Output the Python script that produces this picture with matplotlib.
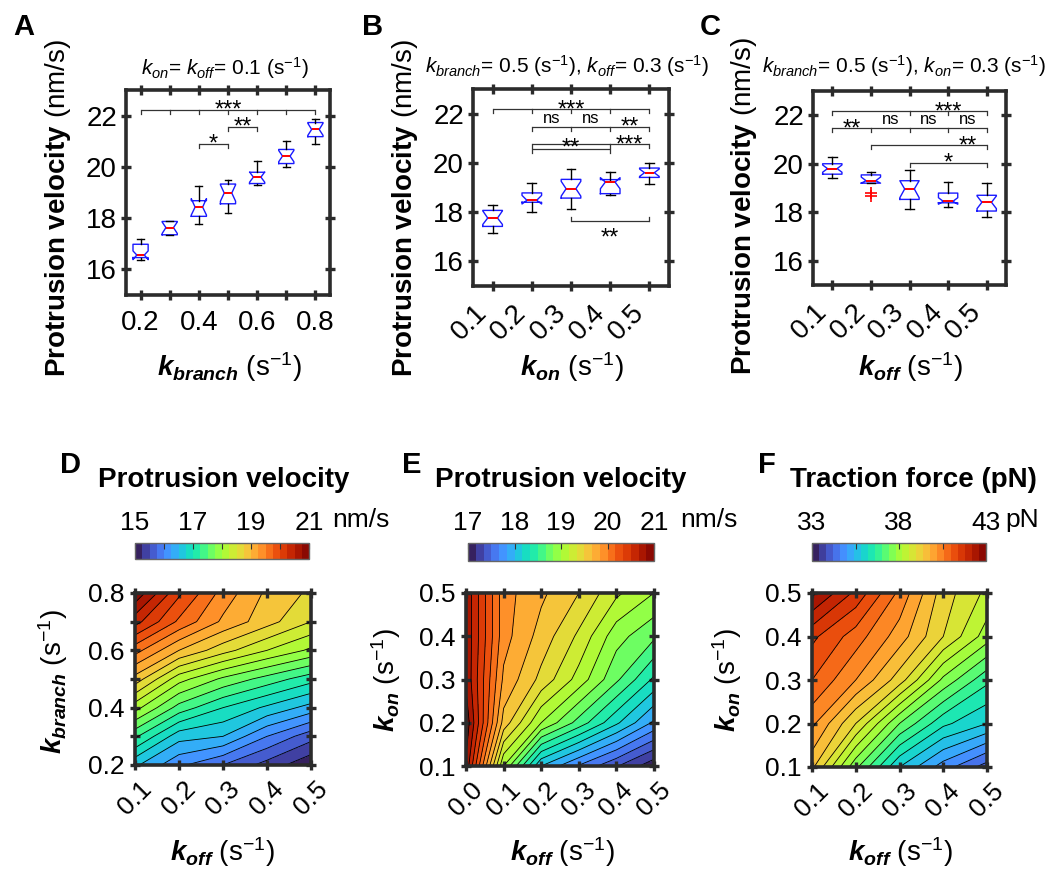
import numpy as np
import matplotlib
matplotlib.use("Agg")
import matplotlib.pyplot as plt

plt.rcParams['font.family'] = ['Liberation Sans', 'DejaVu Sans']
plt.rcParams['mathtext.fontset'] = 'custom'
plt.rcParams['mathtext.rm'] = 'Liberation Sans'
plt.rcParams['mathtext.it'] = 'Liberation Sans:italic'
plt.rcParams['mathtext.bf'] = 'Liberation Sans:bold'
plt.rcParams['mathtext.bfit'] = 'Liberation Sans:bold:italic'
plt.rcParams['mathtext.sf'] = 'Liberation Sans'
plt.rcParams['axes.unicode_minus'] = False

# ---------------- data: panel A (k_branch sweep) ----------------
kbranch_A = [0.2, 0.3, 0.4, 0.5, 0.6, 0.7, 0.8]
A_med = [16.56, 17.63, 18.43, 18.98, 19.60, 20.42, 21.46]
A_q1 = [16.46, 17.35, 18.07, 18.56, 19.35, 20.13, 21.18]
A_q3 = [16.98, 17.87, 18.68, 19.33, 19.79, 20.68, 21.73]
A_lo = [16.37, 17.35, 17.78, 18.20, 19.29, 19.99, 20.88]
A_hi = [17.18, 17.87, 19.24, 19.50, 20.22, 21.00, 21.88]
A_cilo = [16.38, 17.40, 18.12, 18.66, 19.40, 20.20, 21.23]
A_cihi = [16.72, 17.85, 18.76, 19.30, 19.80, 20.64, 21.70]
A_fliers = [[], [], [], [], [], [], []]

# ---------------- data: panel B (k_on sweep) ----------------
kon_B = [0.1, 0.2, 0.3, 0.4, 0.5]
B_med = [17.76, 18.48, 18.95, 19.22, 19.60]
B_q1 = [17.42, 18.40, 18.57, 18.75, 19.41]
B_q3 = [18.07, 18.78, 19.33, 19.32, 19.79]
B_lo = [17.17, 18.00, 18.14, 18.71, 19.13]
B_hi = [18.28, 19.20, 19.74, 19.62, 20.01]
B_cilo = [17.50, 18.33, 18.65, 18.95, 19.45]
B_cihi = [18.05, 18.68, 19.25, 19.40, 19.75]
B_fliers = [[], [], [], [], []]

# ---------------- data: panel C (k_off sweep) ----------------
koff_C = [0.1, 0.2, 0.3, 0.4, 0.5]
C_med = [19.80, 19.30, 18.96, 18.45, 18.41]
C_q1 = [19.57, 19.20, 18.53, 18.39, 18.05]
C_q3 = [20.00, 19.54, 19.30, 18.79, 18.70]
C_lo = [19.41, 19.20, 18.12, 18.20, 17.82]
C_hi = [20.29, 19.68, 19.73, 19.23, 19.19]
C_cilo = [19.65, 19.20, 18.60, 18.33, 18.15]
C_cihi = [19.95, 19.45, 19.30, 18.60, 18.67]
C_fliers = [[], [18.66, 18.78], [], [], []]

# significance brackets: (x_start, x_end, y_bar, tick x positions, tick direction)
A_brackets = [(0.2, 0.8, 22.22, [0.2, 0.3, 0.4, 0.5, 0.6, 0.7, 0.8], -1),
              (0.5, 0.6, 21.57, [0.5, 0.6], -1),
              (0.4, 0.5, 20.90, [0.4, 0.5], -1)]
A_sig = [("***", 0.5, 22.22, 1), ("**", 0.55, 21.57, 1), ("*", 0.45, 20.90, 1)]

B_brackets = [(0.1, 0.5, 22.17, [0.1, 0.2, 0.3, 0.4, 0.5], -1),
              (0.2, 0.5, 21.46, [0.2, 0.3, 0.4, 0.5], -1),
              (0.2, 0.5, 20.75, [0.2, 0.4, 0.5], -1),
              (0.2, 0.4, 20.58, [0.2, 0.4], -1),
              (0.3, 0.5, 17.63, [0.3, 0.5], 1)]
B_sig = [("***", 0.30, 22.17, 1), ("ns", 0.25, 21.46, 1), ("ns", 0.35, 21.46, 1),
         ("**", 0.45, 21.46, 1), ("***", 0.45, 20.75, 1), ("**", 0.30, 20.62, 1),
         ("**", 0.40, 17.63, -1)]

C_brackets = [(0.1, 0.5, 22.16, [0.1, 0.3, 0.4, 0.5], -1),
              (0.1, 0.5, 21.46, [0.1, 0.2, 0.3, 0.4, 0.5], -1),
              (0.2, 0.5, 20.76, [0.2, 0.5], -1),
              (0.3, 0.5, 20.04, [0.3, 0.5], -1)]
C_sig = [("***", 0.40, 22.16, 1), ("**", 0.15, 21.46, 1), ("ns", 0.25, 21.46, 1),
         ("ns", 0.35, 21.46, 1), ("ns", 0.45, 21.46, 1), ("**", 0.45, 20.76, 1),
         ("*", 0.40, 20.04, 1)]

# ---------------- data: contour maps ----------------
koff_D = [0.1, 0.2, 0.3, 0.4, 0.5]
kbranch_D = [0.2, 0.3, 0.4, 0.5, 0.6, 0.7, 0.8]
vel_D = [[16.55, 16.05, 15.75, 15.40, 15.05],
         [17.30, 16.60, 16.50, 16.00, 15.60],
         [18.10, 17.40, 17.00, 16.70, 16.40],
         [18.90, 18.10, 17.70, 17.40, 17.10],
         [19.60, 19.00, 18.60, 18.25, 17.95],
         [20.35, 19.70, 19.20, 18.85, 18.50],
         [20.95, 20.05, 19.40, 18.95, 18.70]]

koff_E = [0.0, 0.1, 0.2, 0.3, 0.4, 0.5]
kon_E = [0.1, 0.2, 0.3, 0.4, 0.5]
vel_E = [[20.80, 19.00, 18.00, 17.65, 17.35, 17.05],
         [20.95, 19.60, 19.00, 18.60, 18.20, 17.80],
         [20.80, 19.80, 19.45, 19.10, 18.70, 18.30],
         [20.80, 19.90, 19.60, 19.30, 18.90, 18.70],
         [20.80, 19.90, 19.70, 19.50, 19.20, 19.00]]

koff_F = [0.1, 0.2, 0.3, 0.4, 0.5]
kon_F = [0.1, 0.2, 0.3, 0.4, 0.5]
force_F = [[39.5, 37.5, 35.8, 34.8, 34.0],
           [40.3, 39.0, 37.4, 36.3, 35.8],
           [41.0, 40.2, 39.2, 37.7, 36.7],
           [41.5, 40.8, 40.0, 39.0, 38.0],
           [42.7, 41.7, 40.5, 39.2, 38.5]]

# ---------------- layout helpers ----------------
W, H = 1048, 869
fig = plt.figure(figsize=(W / 100, H / 100), dpi=100)
SPINE = '#2b2b2b'


def rect(x0, y0, x1, y1):
    return [x0 / W, 1 - y1 / H, (x1 - x0) / W, (y1 - y0) / H]


def ftext(x, y, s, **kw):
    fig.text(x / W, 1 - y / H, s, **kw)


def style(ax, labelsize):
    for s in ax.spines.values():
        s.set_linewidth(2.6)
        s.set_color(SPINE)
    ax.tick_params(direction='inout', length=7, width=2.4, color=SPINE,
                   top=True, right=True, labelsize=labelsize)


def draw_boxes(ax, pos, med, q1, q3, lo, hi, cilo, cihi, fliers, width):
    stats = [dict(med=med[i], q1=q1[i], q3=q3[i], whislo=lo[i], whishi=hi[i],
                  cilo=cilo[i], cihi=cihi[i], fliers=fliers[i]) for i in range(len(pos))]
    ax.bxp(stats, positions=pos, widths=width, shownotches=True, showfliers=True,
           manage_ticks=False, capwidths=width * 0.45,
           boxprops=dict(color='#1a1aff', lw=1.0),
           medianprops=dict(color='#ff0000', lw=1.4),
           whiskerprops=dict(color='black', lw=1.0),
           capprops=dict(color='black', lw=1.0),
           flierprops=dict(marker='+', markeredgecolor='red', markersize=8,
                           markeredgewidth=1.2, linestyle='none'))


def draw_sig(ax, brackets, sigs, tick_len):
    for (x1, x2, y, txs, d) in brackets:
        ax.plot([x1, x2], [y, y], color='#333333', lw=0.9, solid_capstyle='butt')
        for tx in txs:
            ax.plot([tx, tx], [y, y + d * tick_len], color='#333333', lw=0.9)
    for (s, x, y, d) in sigs:
        star = '*' in s
        if d > 0:
            dy = -5.0 if star else 3.0
        else:
            dy = -17.0
        ax.annotate(s, xy=(x, y), xytext=(0, dy), textcoords='offset points',
                    ha='center', va='baseline', fontsize=17 if star else 12,
                    color='black')


def top_panel(rc, pos, data, xlim, xticks, xticklabels, rot, brackets, sigs, width):
    ax = fig.add_axes(rect(*rc))
    draw_boxes(ax, pos, *data, width)
    draw_sig(ax, brackets, sigs, 0.16)
    ax.set_xlim(*xlim)
    ax.set_ylim(15, 23)
    ax.set_yticks([16, 18, 20, 22])
    style(ax, 20)
    ax.tick_params(axis='y', pad=3)
    ax.set_xticks(xticks)
    if rot:
        ax.set_xticklabels(xticklabels, rotation=45, ha='right', va='top')
        ax.tick_params(axis='x', pad=6)
    else:
        ax.set_xticklabels(xticklabels)
        ax.tick_params(axis='x', pad=7)
    return ax


# ---------------- top row ----------------
axA = top_panel((126, 90, 330, 295), kbranch_A,
                (A_med, A_q1, A_q3, A_lo, A_hi, A_cilo, A_cihi, A_fliers),
                (0.15, 0.85), kbranch_A, ['0.2', '', '0.4', '', '0.6', '', '0.8'],
                False, A_brackets, A_sig, 0.052)
axB = top_panel((473, 89, 669, 286), kon_B,
                (B_med, B_q1, B_q3, B_lo, B_hi, B_cilo, B_cihi, B_fliers),
                (0.05, 0.55), kon_B, [f'{v:.1f}' for v in kon_B],
                True, B_brackets, B_sig, 0.05)
axC = top_panel((813, 91, 1006, 285), koff_C,
                (C_med, C_q1, C_q3, C_lo, C_hi, C_cilo, C_cihi, C_fliers),
                (0.05, 0.55), koff_C, [f'{v:.1f}' for v in koff_C],
                True, C_brackets, C_sig, 0.05)

ylab = r'$\mathbf{Protrusion\ velocity}$ (nm/s)'
ftext(58, 208, ylab, rotation=90, ha='center', va='center', fontsize=20)
ftext(405, 208, ylab, rotation=90, ha='center', va='center', fontsize=20)
ftext(744, 206, ylab, rotation=90, ha='center', va='center', fontsize=20)

ftext(229, 367, r'$\mathbfit{k}_{\mathbfit{branch}}$ (s$^{-1}$)', ha='center', va='center', fontsize=20)
ftext(572, 367, r'$\mathbfit{k}_{\mathbfit{on}}$ (s$^{-1}$)', ha='center', va='center', fontsize=20)
ftext(910, 367, r'$\mathbfit{k}_{\mathbfit{off}}$ (s$^{-1}$)', ha='center', va='center', fontsize=20)

ftext(225, 68, r'$k_{on}$= $k_{off}$= 0.1 (s$^{-1}$)', ha='center', va='center', fontsize=15)
ftext(567, 66, r'$k_{branch}$= 0.5 (s$^{-1}$), $k_{off}$= 0.3 (s$^{-1}$)', ha='center', va='center', fontsize=15)
ftext(904, 66, r'$k_{branch}$= 0.5 (s$^{-1}$), $k_{on}$= 0.3 (s$^{-1}$)', ha='center', va='center', fontsize=15)

for (x, y, s) in [(24, 27, 'A'), (373, 27, 'B'), (710, 27, 'C'),
                  (71, 465, 'D'), (412, 465, 'E'), (767, 465, 'F')]:
    ftext(x, y, s, ha='center', va='center', fontsize=21, fontweight='bold')


# ---------------- bottom row ----------------
def contour_panel(rc, cbrc, x, y, z, levels, cticks, clabels, xlim, ylim, yticks, yticklabels, unit, unit_x):
    ax = fig.add_axes(rect(*rc))
    X, Y = np.meshgrid(x, y)
    Z = np.array(z)
    cf = ax.contourf(X, Y, Z, levels=levels, cmap='turbo')
    ax.contour(X, Y, Z, levels=levels, colors='black', linewidths=0.6)
    ax.set_xlim(*xlim)
    ax.set_ylim(*ylim)
    ax.set_xticks(x)
    ax.set_xticklabels([f'{v:.1f}' for v in x], rotation=45, ha='center', va='top')
    ax.set_yticks(yticks)
    ax.set_yticklabels(yticklabels)
    style(ax, 19)
    ax.tick_params(axis='y', pad=4)
    ax.tick_params(axis='x', pad=5)
    cax = fig.add_axes(rect(*cbrc))
    cb = fig.colorbar(cf, cax=cax, orientation='horizontal', ticklocation='top')
    cb.set_ticks(cticks)
    cb.set_ticklabels(clabels)
    cb.outline.set_edgecolor('#666666')
    cb.outline.set_linewidth(1.0)
    cax.tick_params(direction='in', length=4, width=0.8, color='#333333', labelsize=19, pad=6)
    cax.minorticks_off()
    ftext(unit_x, 520, unit, ha='left', va='center', fontsize=19)
    return ax


contour_panel((135, 593, 311, 765), (135, 543, 309, 559), koff_D, kbranch_D, vel_D,
              np.linspace(15, 21, 25), [15, 16, 17, 18, 19, 20, 21],
              ['15', '', '17', '', '19', '', '21'], (0.1, 0.5), (0.2, 0.8),
              kbranch_D, ['0.2', '', '0.4', '', '0.6', '', '0.8'], 'nm/s', 332)
contour_panel((466, 593, 654, 766), (468, 543, 654, 561), koff_E, kon_E, vel_E,
              np.linspace(17, 21, 25), [17, 18, 19, 20, 21],
              ['17', '18', '19', '20', '21'], (0.0, 0.5), (0.1, 0.5),
              kon_E, [f'{v:.1f}' for v in kon_E], 'nm/s', 680)
contour_panel((812, 593, 987, 767), (812, 543, 986, 561), koff_F, kon_F, force_F,
              np.linspace(33, 43, 26), [33, 35.5, 38, 40.5, 43],
              ['33', '', '38', '', '43'], (0.1, 0.5), (0.1, 0.5),
              kon_F, [f'{v:.1f}' for v in kon_F], 'pN', 1005)

ftext(224, 480, 'Protrusion velocity', ha='center', va='center', fontsize=20, fontweight='bold')
ftext(561, 480, 'Protrusion velocity', ha='center', va='center', fontsize=20, fontweight='bold')
ftext(913, 480, 'Traction force (pN)', ha='center', va='center', fontsize=20, fontweight='bold')

ftext(53, 682, r'$\mathbfit{k}_{\mathbfit{branch}}$ (s$^{-1}$)', rotation=90, ha='center', va='center', fontsize=20)
ftext(386, 680, r'$\mathbfit{k}_{\mathbfit{on}}$ (s$^{-1}$)', rotation=90, ha='center', va='center', fontsize=20)
ftext(727, 680, r'$\mathbfit{k}_{\mathbfit{on}}$ (s$^{-1}$)', rotation=90, ha='center', va='center', fontsize=20)

ftext(222, 852, r'$\mathbfit{k}_{\mathbfit{off}}$ (s$^{-1}$)', ha='center', va='center', fontsize=20)
ftext(562, 852, r'$\mathbfit{k}_{\mathbfit{off}}$ (s$^{-1}$)', ha='center', va='center', fontsize=20)
ftext(900, 852, r'$\mathbfit{k}_{\mathbfit{off}}$ (s$^{-1}$)', ha='center', va='center', fontsize=20)

fig.savefig('out.png', dpi=100)
